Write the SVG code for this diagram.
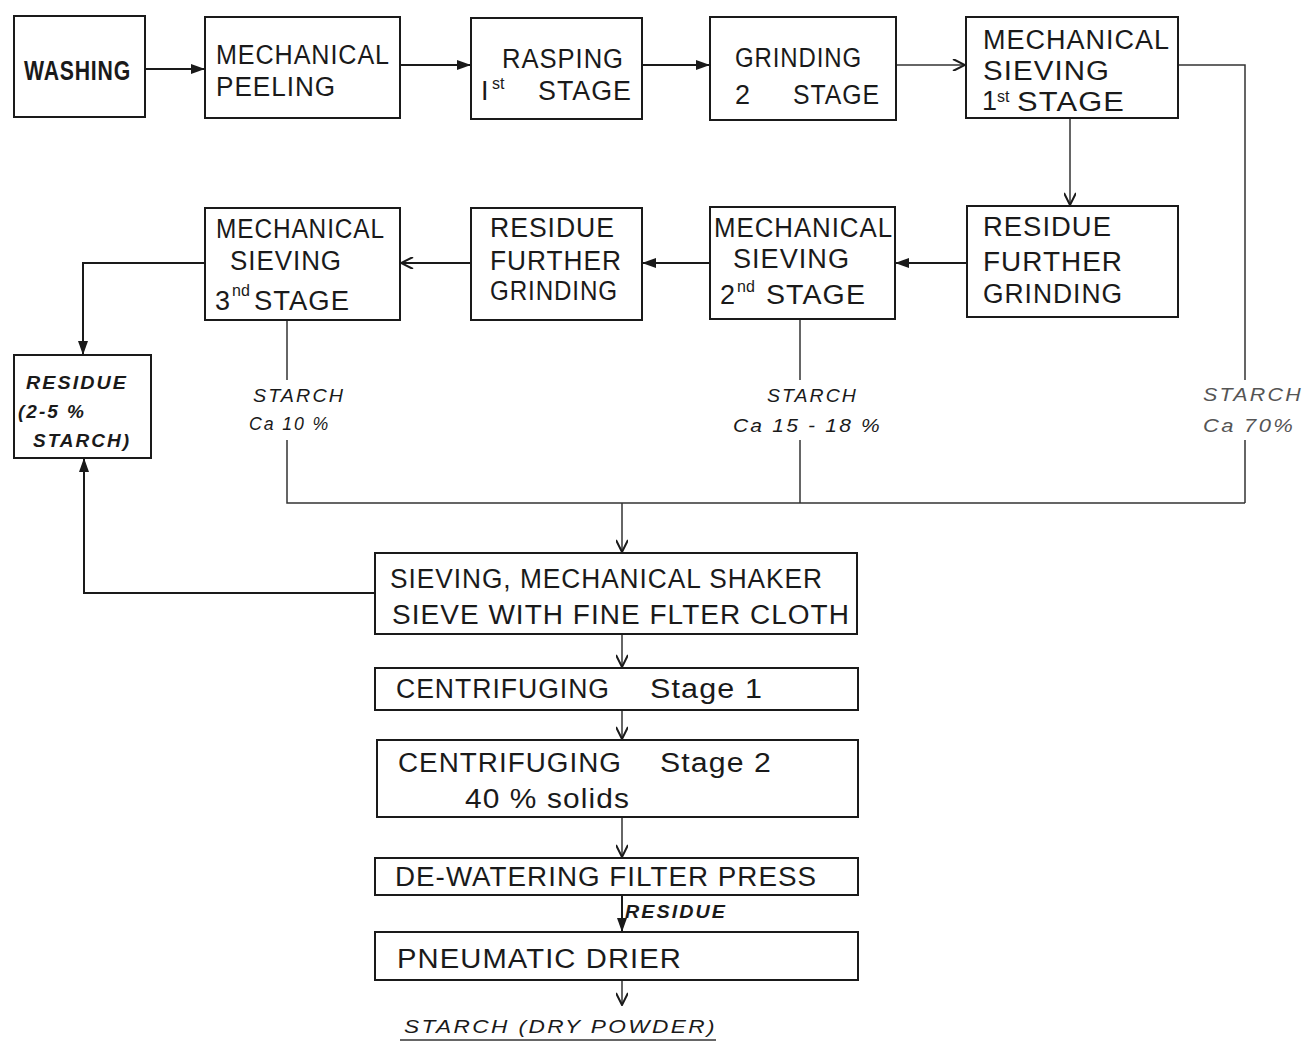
<svg xmlns="http://www.w3.org/2000/svg" width="1309" height="1043" viewBox="0 0 1309 1043">
<style>
.box{fill:#fff;stroke:#1a1a1a;stroke-width:2}
.t{font-family:"Liberation Sans",Arial,sans-serif;font-size:27px;fill:#1a1a1a;letter-spacing:1px}
.sup{font-family:"Liberation Sans",Arial,sans-serif;font-size:16px;fill:#1a1a1a}
.it{font-family:"Liberation Sans",Arial,sans-serif;font-size:19px;font-style:italic;fill:#1a1a1a;letter-spacing:2px}
.itb{font-family:"Liberation Sans",Arial,sans-serif;font-size:19px;font-style:italic;font-weight:bold;fill:#1a1a1a;letter-spacing:2px}
.ln{fill:none;stroke:#1a1a1a;stroke-width:2}
.lt{fill:none;stroke:#333;stroke-width:1.5}
</style>
<defs>
<marker id="af" markerWidth="14" markerHeight="10" refX="13" refY="5" orient="auto" markerUnits="userSpaceOnUse">
<path d="M0,0 L14,5 L0,10 Z" fill="#1a1a1a"/>
</marker>
<marker id="ao" markerWidth="14" markerHeight="12" refX="13" refY="6" orient="auto" markerUnits="userSpaceOnUse">
<path d="M1,0 L13,6 L1,12" fill="none" stroke="#1a1a1a" stroke-width="2"/>
</marker>
</defs>
<rect width="1309" height="1043" fill="#fff"/>

<g id="connectors">
<line class="ln" x1="145" y1="69" x2="204" y2="69" marker-end="url(#af)"/>
<line class="ln" x1="400" y1="65" x2="470" y2="65" marker-end="url(#af)"/>
<line class="ln" x1="642" y1="65" x2="709" y2="65" marker-end="url(#af)"/>
<line class="lt" x1="896" y1="65" x2="965" y2="65" marker-end="url(#ao)"/>
<polyline class="lt" points="1178,65 1245,65 1245,380"/>
<line class="lt" x1="1245" y1="440" x2="1245" y2="503"/>
<line class="lt" x1="1070" y1="118" x2="1070" y2="205" marker-end="url(#ao)"/>
<line class="ln" x1="967" y1="263" x2="896" y2="263" marker-end="url(#af)"/>
<line class="ln" x1="710" y1="263" x2="643" y2="263" marker-end="url(#af)"/>
<line class="ln" x1="471" y1="263" x2="401" y2="263" marker-end="url(#ao)"/>
<polyline class="ln" points="205,263 83,263 83,354" marker-end="url(#af)"/>
<line class="lt" x1="287" y1="320" x2="287" y2="380"/>
<polyline class="lt" points="287,440 287,503 1245,503"/>
<line class="lt" x1="800" y1="319" x2="800" y2="380"/>
<line class="lt" x1="800" y1="440" x2="800" y2="503"/>
<line class="lt" x1="622" y1="503" x2="622" y2="552" marker-end="url(#ao)"/>
<polyline class="ln" points="375,593 84,593 84,459" marker-end="url(#af)"/>
<line class="lt" x1="622" y1="634" x2="622" y2="667" marker-end="url(#ao)"/>
<line class="lt" x1="622" y1="710" x2="622" y2="739" marker-end="url(#ao)"/>
<line class="lt" x1="622" y1="817" x2="622" y2="857" marker-end="url(#ao)"/>
<line class="ln" x1="622" y1="895" x2="622" y2="931" marker-end="url(#af)"/>
<line class="lt" x1="622" y1="980" x2="622" y2="1005" marker-end="url(#ao)"/>
<line class="lt" x1="400" y1="1040" x2="716" y2="1040"/>
</g>

<g id="washing">
<rect class="box" x="14" y="16" width="131" height="101"/>
<text class="t" x="24" y="80" font-weight="bold" font-size="24" textLength="107" lengthAdjust="spacingAndGlyphs">WASHING</text>
</g>
<g id="peeling">
<rect class="box" x="205" y="17" width="195" height="101"/>
<text class="t" x="216" y="64" textLength="174" lengthAdjust="spacingAndGlyphs">MECHANICAL</text>
<text class="t" x="216" y="96" textLength="120" lengthAdjust="spacingAndGlyphs">PEELING</text>
</g>
<g id="rasping">
<rect class="box" x="471" y="18" width="171" height="101"/>
<text class="t" x="502" y="68" textLength="122" lengthAdjust="spacingAndGlyphs">RASPING</text>
<text class="t" x="481" y="100" font-family="Liberation Serif">I</text>
<text class="sup" x="492" y="89" font-size="15">st</text>
<text class="t" x="538" y="100" textLength="94" lengthAdjust="spacingAndGlyphs">STAGE</text>
</g>
<g id="grinding">
<rect class="box" x="710" y="17" width="186" height="103"/>
<text class="t" x="735" y="67" textLength="127" lengthAdjust="spacingAndGlyphs">GRINDING</text>
<text class="t" x="735" y="104">2</text>
<text class="t" x="793" y="104" textLength="87" lengthAdjust="spacingAndGlyphs">STAGE</text>
</g>
<g id="sieving1">
<rect class="box" x="966" y="17" width="212" height="101"/>
<text class="t" x="983" y="49" textLength="187" lengthAdjust="spacingAndGlyphs">MECHANICAL</text>
<text class="t" x="983" y="80" textLength="127" lengthAdjust="spacingAndGlyphs">SIEVING</text>
<text class="t" x="982" y="110" font-size="22">1</text>
<text class="sup" x="997" y="102" font-size="15">st</text>
<text class="t" x="1017" y="111" textLength="108" lengthAdjust="spacingAndGlyphs">STAGE</text>
</g>
<g id="residue1">
<rect class="box" x="967" y="206" width="211" height="111"/>
<text class="t" x="983" y="236" textLength="129" lengthAdjust="spacingAndGlyphs">RESIDUE</text>
<text class="t" x="983" y="271" textLength="140" lengthAdjust="spacingAndGlyphs">FURTHER</text>
<text class="t" x="983" y="303" textLength="140" lengthAdjust="spacingAndGlyphs">GRINDING</text>
</g>
<g id="sieving2">
<rect class="box" x="710" y="207" width="185" height="112"/>
<text class="t" x="714" y="237" textLength="179" lengthAdjust="spacingAndGlyphs">MECHANICAL</text>
<text class="t" x="733" y="268" textLength="117" lengthAdjust="spacingAndGlyphs">SIEVING</text>
<text class="t" x="720" y="304">2</text>
<text class="sup" x="737" y="292">nd</text>
<text class="t" x="766" y="304" textLength="100" lengthAdjust="spacingAndGlyphs">STAGE</text>
</g>
<g id="residue2">
<rect class="box" x="471" y="208" width="171" height="112"/>
<text class="t" x="490" y="237" textLength="125" lengthAdjust="spacingAndGlyphs">RESIDUE</text>
<text class="t" x="490" y="270" textLength="132" lengthAdjust="spacingAndGlyphs">FURTHER</text>
<text class="t" x="490" y="300" textLength="128" lengthAdjust="spacingAndGlyphs">GRINDING</text>
</g>
<g id="sieving3">
<rect class="box" x="205" y="208" width="195" height="112"/>
<text class="t" x="216" y="238" textLength="169" lengthAdjust="spacingAndGlyphs">MECHANICAL</text>
<text class="t" x="230" y="270" textLength="112" lengthAdjust="spacingAndGlyphs">SIEVING</text>
<text class="t" x="215" y="310">3</text>
<text class="sup" x="232" y="296">nd</text>
<text class="t" x="254" y="310" textLength="96" lengthAdjust="spacingAndGlyphs">STAGE</text>
</g>
<g id="residue-final">
<rect class="box" x="14" y="355" width="137" height="103"/>
<text class="itb" x="26" y="389" textLength="102" lengthAdjust="spacingAndGlyphs">RESIDUE</text>
<text class="itb" x="18" y="418">(2-5 %</text>
<text class="itb" x="33" y="447" textLength="98" lengthAdjust="spacingAndGlyphs">STARCH)</text>
</g>
<g id="label-starch10">
<text class="it" x="253" y="402" textLength="92" lengthAdjust="spacingAndGlyphs">STARCH</text>
<text class="it" x="249" y="430" textLength="81" lengthAdjust="spacingAndGlyphs">Ca 10 %</text>
</g>
<g id="label-starch15">
<text class="it" x="767" y="402" textLength="91" lengthAdjust="spacingAndGlyphs">STARCH</text>
<text class="it" x="733" y="432" textLength="149" lengthAdjust="spacingAndGlyphs">Ca  15 - 18 %</text>
</g>
<g id="label-starch70">
<text class="it" x="1203" y="401" style="fill:#555" textLength="100" lengthAdjust="spacingAndGlyphs">STARCH</text>
<text class="it" x="1203" y="432" style="fill:#555" textLength="92" lengthAdjust="spacingAndGlyphs">Ca 70%</text>
</g>
<g id="shaker">
<rect class="box" x="375" y="553" width="482" height="81"/>
<text class="t" x="390" y="588" textLength="433" lengthAdjust="spacingAndGlyphs">SIEVING, MECHANICAL SHAKER</text>
<text class="t" x="392" y="624" textLength="458" lengthAdjust="spacingAndGlyphs">SIEVE WITH FINE FLTER CLOTH</text>
</g>
<g id="centri1">
<rect class="box" x="375" y="668" width="483" height="42"/>
<text class="t" x="396" y="698" textLength="214" lengthAdjust="spacingAndGlyphs">CENTRIFUGING</text>
<text class="t" x="650" y="698" textLength="113" lengthAdjust="spacingAndGlyphs">Stage 1</text>
</g>
<g id="centri2">
<rect class="box" x="377" y="740" width="481" height="77"/>
<text class="t" x="398" y="772" textLength="224" lengthAdjust="spacingAndGlyphs">CENTRIFUGING</text>
<text class="t" x="660" y="772" textLength="112" lengthAdjust="spacingAndGlyphs">Stage 2</text>
<text class="t" x="465" y="808" textLength="165" lengthAdjust="spacingAndGlyphs">40 %  solids</text>
</g>
<g id="dewatering">
<rect class="box" x="375" y="858" width="483" height="37"/>
<text class="t" x="395" y="886" textLength="422" lengthAdjust="spacingAndGlyphs">DE-WATERING  FILTER  PRESS</text>
</g>
<text class="itb" x="625" y="918" textLength="102" lengthAdjust="spacingAndGlyphs">RESIDUE</text>
<g id="drier">
<rect class="box" x="375" y="932" width="483" height="48"/>
<text class="t" x="397" y="968" textLength="285" lengthAdjust="spacingAndGlyphs">PNEUMATIC  DRIER</text>
</g>
<text class="it" x="404" y="1033" textLength="313" lengthAdjust="spacingAndGlyphs">STARCH (DRY POWDER)</text>
</svg>
